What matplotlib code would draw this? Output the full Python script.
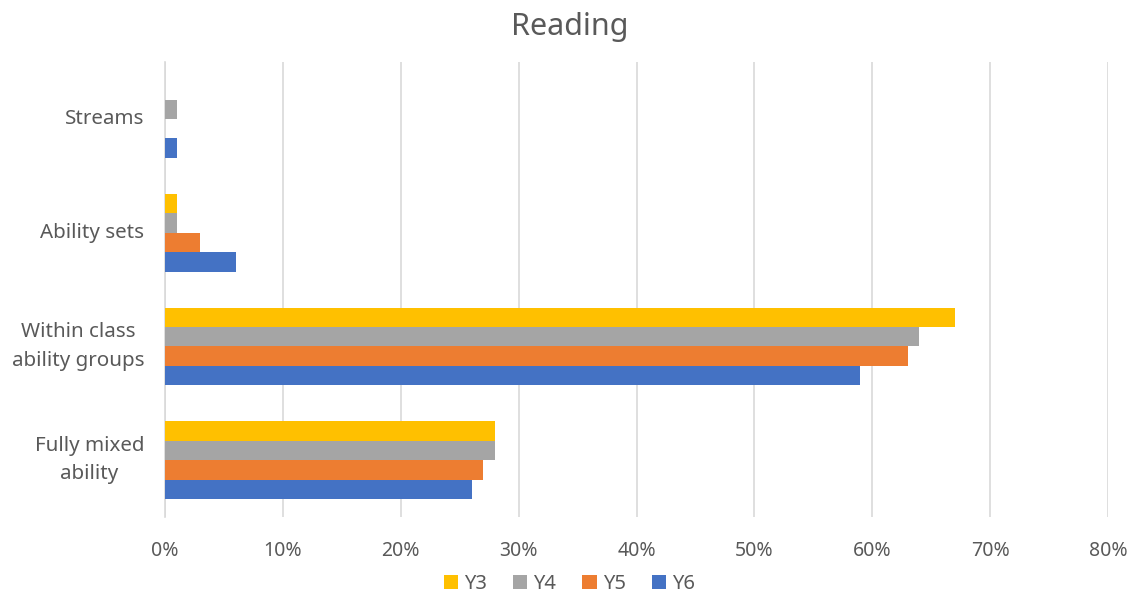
import numpy as np
import matplotlib
matplotlib.use("Agg")
import matplotlib.pyplot as plt
from matplotlib.ticker import PercentFormatter

plt.rcParams['font.family'] = ['Noto Sans', 'DejaVu Sans']

categories = ["Fully mixed\nability", "Within class\nability groups", "Ability sets", "Streams"]
series = ["Y3", "Y4", "Y5", "Y6"]
y3 = [28, 67, 1, 0]
y4 = [28, 64, 1, 1]
y5 = [27, 63, 3, 0]
y6 = [26, 59, 6, 1]
colors = ["#FFC000", "#A5A5A5", "#ED7D31", "#4472C4"]

fig = plt.figure(figsize=(11.39, 5.97), dpi=100)
ax = fig.add_axes([0.1449, 0.134, 0.8279, 0.762])

ypos = np.arange(len(categories))
h = 0.171
values = [y3, y4, y5, y6]
for i, (name, vals) in enumerate(zip(series, values)):
    offset = (1.5 - i) * h  # Y3 at top of each group
    ax.barh(ypos + offset, vals, height=h, color=colors[i], label=name, zorder=3)

ax.set_xlim(0, 80)
ax.set_ylim(-0.5, 3.5)
ax.set_xticks(np.arange(0, 81, 10))
ax.xaxis.set_major_formatter(PercentFormatter(decimals=0))
ax.set_yticks(ypos)
ax.set_yticklabels(categories)
ax.tick_params(axis='x', length=0, labelsize=14, colors="#595959", pad=17)
ax.tick_params(axis='y', length=0, labelsize=14.8, colors="#595959", pad=15)
for lbl in ax.get_yticklabels():
    lbl.set_horizontalalignment('right')
    lbl.set_verticalalignment('center')
    lbl.set_multialignment('center')
    lbl.set_linespacing(1.55)

ax.grid(axis='x', color="#D9D9D9", linewidth=1.2, zorder=0)
for s in ["top", "right", "bottom"]:
    ax.spines[s].set_visible(False)
ax.spines["left"].set_color("#D9D9D9")
ax.spines["left"].set_linewidth(1.2)

fig.text(0.5, 0.955, "Reading", ha='center', va='center', fontsize=22, color="#595959")

handles, labels = ax.get_legend_handles_labels()
fig.legend(handles, labels, loc='center', bbox_to_anchor=(0.5, 0.022), ncol=4, frameon=False,
           fontsize=14.5, labelcolor="#595959", handlelength=0.7, handleheight=0.7,
           handletextpad=0.3, columnspacing=1.3)

fig.savefig("out.png", dpi=100)
